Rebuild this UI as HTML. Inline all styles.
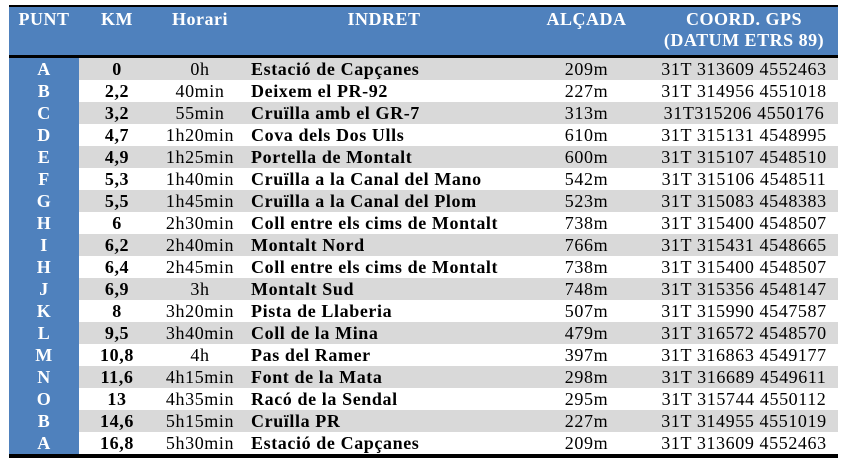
<!DOCTYPE html><html><head><style>
body{margin:0;background:#fff;width:850px;height:469px;overflow:hidden;font-family:"Liberation Serif",serif;}
table{position:absolute;left:9px;top:5px;border-collapse:collapse;width:829px;table-layout:fixed;}
th{background:#4f81bd;color:#fff;font-size:18px;letter-spacing:0.5px;font-weight:bold;vertical-align:top;padding:2px 0 0;height:46px;line-height:21px;}
thead tr{border-top:2px solid #000;border-bottom:3px solid #000;}
td{height:22px;padding:0;font-size:18px;letter-spacing:0.6px;line-height:22px;text-align:center;white-space:nowrap;overflow:hidden;}
td:first-child{background:#4f81bd;color:#fff;font-weight:bold;}
tbody tr:nth-child(odd) td{background:#d9d9d9}
tbody tr:nth-child(odd) td:first-child{background:#4f81bd}
td:nth-child(2),td:nth-child(4){font-weight:bold}
td:nth-child(4){text-align:left;padding-left:6px}
tbody tr:first-child td{border-top:2px solid #fff}
tbody tr:last-child{border-bottom:4px solid #000}
</style></head><body>
<table>
<colgroup><col style="width:70px"><col style="width:76px"><col style="width:90px"><col style="width:278px"><col style="width:127px"><col style="width:188px"></colgroup>
<thead><tr><th>PUNT</th><th>KM</th><th>Horari</th><th>INDRET</th><th>ALÇADA</th><th>COORD. GPS<br>(DATUM ETRS 89)</th></tr></thead>
<tbody>
<tr><td>A</td><td>0</td><td>0h</td><td>Estació de Capçanes</td><td>209m</td><td>31T 313609 4552463</td></tr>
<tr><td>B</td><td>2,2</td><td>40min</td><td>Deixem el PR-92</td><td>227m</td><td>31T 314956 4551018</td></tr>
<tr><td>C</td><td>3,2</td><td>55min</td><td>Cruïlla amb el GR-7</td><td>313m</td><td>31T315206 4550176</td></tr>
<tr><td>D</td><td>4,7</td><td>1h20min</td><td>Cova dels Dos Ulls</td><td>610m</td><td>31T 315131 4548995</td></tr>
<tr><td>E</td><td>4,9</td><td>1h25min</td><td>Portella de Montalt</td><td>600m</td><td>31T 315107 4548510</td></tr>
<tr><td>F</td><td>5,3</td><td>1h40min</td><td>Cruïlla a la Canal del Mano</td><td>542m</td><td>31T 315106 4548511</td></tr>
<tr><td>G</td><td>5,5</td><td>1h45min</td><td>Cruïlla a la Canal del Plom</td><td>523m</td><td>31T 315083 4548383</td></tr>
<tr><td>H</td><td>6</td><td>2h30min</td><td>Coll entre els cims de Montalt</td><td>738m</td><td>31T 315400 4548507</td></tr>
<tr><td>I</td><td>6,2</td><td>2h40min</td><td>Montalt Nord</td><td>766m</td><td>31T 315431 4548665</td></tr>
<tr><td>H</td><td>6,4</td><td>2h45min</td><td>Coll entre els cims de Montalt</td><td>738m</td><td>31T 315400 4548507</td></tr>
<tr><td>J</td><td>6,9</td><td>3h</td><td>Montalt Sud</td><td>748m</td><td>31T 315356 4548147</td></tr>
<tr><td>K</td><td>8</td><td>3h20min</td><td>Pista de Llaberia</td><td>507m</td><td>31T 315990 4547587</td></tr>
<tr><td>L</td><td>9,5</td><td>3h40min</td><td>Coll de la Mina</td><td>479m</td><td>31T 316572 4548570</td></tr>
<tr><td>M</td><td>10,8</td><td>4h</td><td>Pas del Ramer</td><td>397m</td><td>31T 316863 4549177</td></tr>
<tr><td>N</td><td>11,6</td><td>4h15min</td><td>Font de la Mata</td><td>298m</td><td>31T 316689 4549611</td></tr>
<tr><td>O</td><td>13</td><td>4h35min</td><td>Racó de la Sendal</td><td>295m</td><td>31T 315744 4550112</td></tr>
<tr><td>B</td><td>14,6</td><td>5h15min</td><td>Cruïlla PR</td><td>227m</td><td>31T 314955 4551019</td></tr>
<tr><td>A</td><td>16,8</td><td>5h30min</td><td>Estació de Capçanes</td><td>209m</td><td>31T 313609 4552463</td></tr>
</tbody></table>
</body></html>
